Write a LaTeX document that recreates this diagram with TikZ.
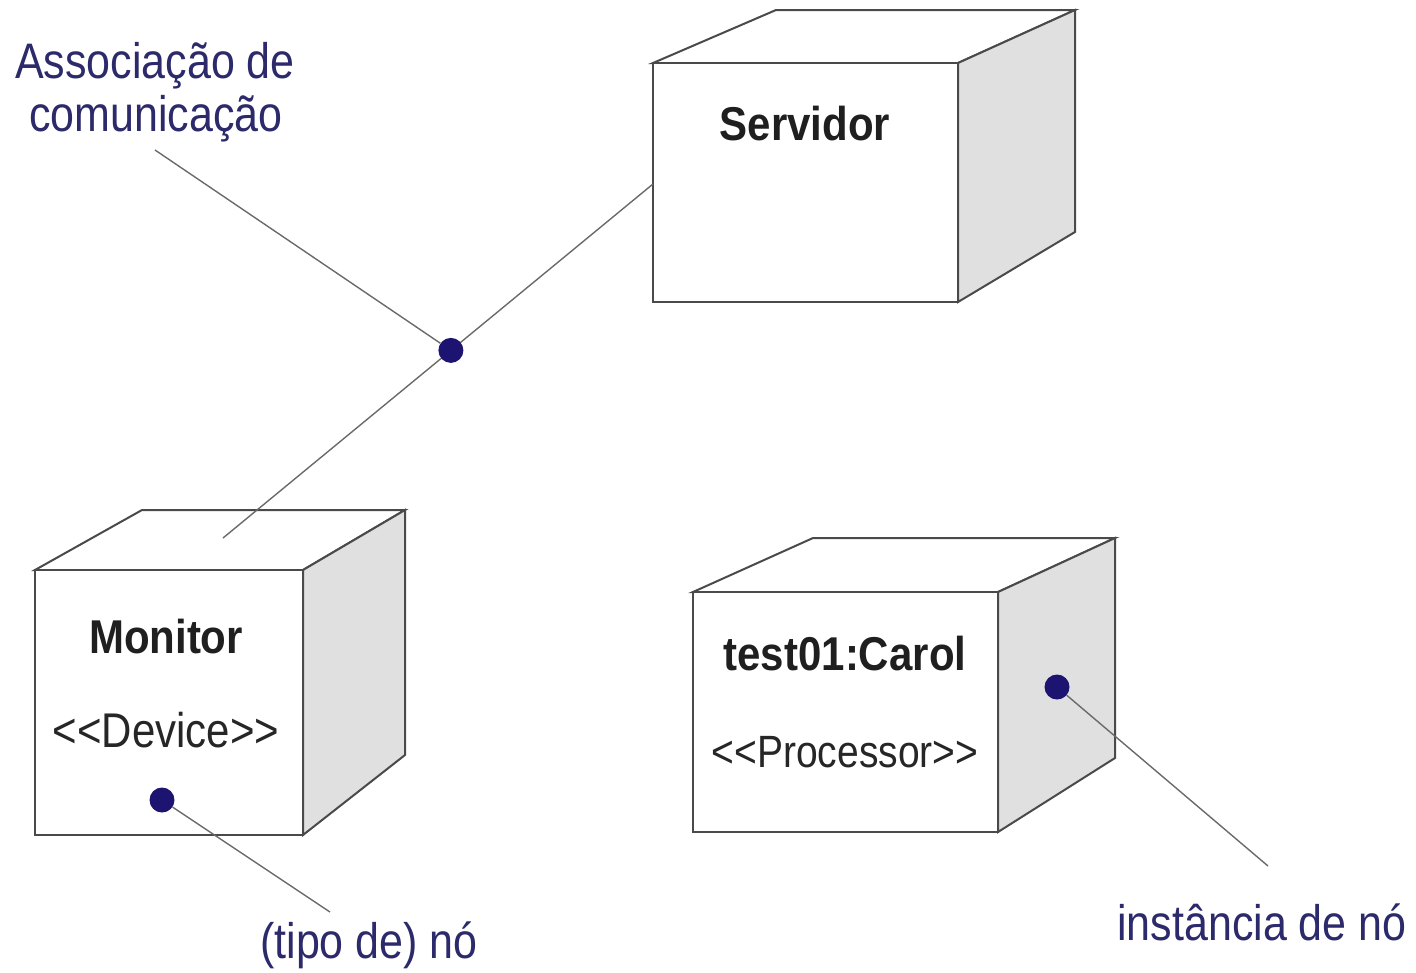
\documentclass[tikz,border=0pt]{standalone}
\usepackage{graphicx}
\usepackage{fontspec}
\setmainfont{Liberation Sans}
\newfontfamily\plainsans{Liberation Sans}
\usetikzlibrary{calc}
\definecolor{edgegray}{HTML}{4A4A4A}
\definecolor{sidegray}{HTML}{E0E0E0}
\definecolor{dotblue}{HTML}{1C1470}
\definecolor{labelblue}{HTML}{2C2A6A}
\definecolor{linegray}{HTML}{6A6A6A}
\newcommand{\tallbold}[1]{\scalebox{1}[1.13]{#1}}
\newcommand{\tallreg}[1]{\scalebox{1}[1.16]{#1}}
\tikzset{
  boxedge/.style={draw=edgegray, line width=2pt, line join=miter},
  sideface/.style={boxedge, fill=sidegray},
  topface/.style={boxedge, fill=white},
  frontface/.style={boxedge, fill=white, rectangle, anchor=north west, outer sep=0pt, inner sep=0pt},
  dotmark/.style={circle, fill=dotblue, inner sep=0pt, minimum size=25pt},
  connector/.style={draw=linegray, line width=1.4pt},
  boldtext/.style={font=\fontsize{42}{48}\selectfont\bfseries, anchor=base, inner sep=0pt, text=black!88},
  stereo/.style={font=\plainsans\fontsize{42}{48}\selectfont, anchor=base, inner sep=0pt, text=black!85},
  labeltext/.style={font=\fontsize{43}{48}\selectfont, text=labelblue, anchor=base, inner sep=0pt},
}
\begin{document}
\begin{tikzpicture}[x=1pt,y=-1pt]
\useasboundingbox (0,0) rectangle (1416,972);

% Servidor cube
\path[topface] (653,63) -- (776,10) -- (1075,10) -- (958,63) -- cycle;
\path[sideface] (958,63) -- (1075,10) -- (1075,232) -- (958,302) -- cycle;
\node[frontface, minimum width=305pt, minimum height=239pt] (servidor) at (653,63) {};

% Monitor cube
\path[topface] (35,570) -- (142,510) -- (405,510) -- (303,570) -- cycle;
\path[sideface] (303,570) -- (405,510) -- (405,755) -- (303,835) -- cycle;
\node[frontface, minimum width=268pt, minimum height=265pt] (monitor) at (35,570) {};

% test01:Carol cube
\path[topface] (693,592) -- (813,538) -- (1115,538) -- (998,592) -- cycle;
\path[sideface] (998,592) -- (1115,538) -- (1115,758) -- (998,832) -- cycle;
\node[frontface, minimum width=305pt, minimum height=240pt] (carol) at (693,592) {};

% node texts
\node[boldtext] (srvname) at (805,140) {\tallbold{Servidor}};
\node[boldtext] (monname) at (166,653) {\tallbold{Monitor}};
\node[stereo] (monstereo) at (166,747) {\tallreg{<\kern0pt<Device>\kern0pt>}};
\node[boldtext] (carolname) at (845,670) {\tallbold{test01:Carol}};
\node[stereo, font=\plainsans\fontsize{39}{46}\selectfont] (carolstereo) at (845,767) {\tallreg{<\kern0pt<Processor>\kern0pt>}};

% communication association
\coordinate (montop) at (223,538);
\coordinate (srvlink) at (653,184);
\draw[connector] (montop) -- (srvlink);
\coordinate (assocend) at (155,150);
\node[dotmark] (assocdot) at ($(montop)!0.53!(srvlink)$) {};
\draw[connector] (assocend) -- (assocdot);

% (tipo de) no
\node[dotmark] (mondot) at (162,800) {};
\coordinate (tipoend) at (330,912);
\draw[connector] (mondot) -- (tipoend);

% instancia de no
\node[dotmark] (caroldot) at (1057,687) {};
\coordinate (instend) at (1268,866);
\draw[connector] (caroldot) -- (instend);

% labels
\node[labeltext] (assoc1) at (155,78) {\tallreg{Associação de}};
\node[labeltext] (assoc2) at (156,131) {\tallreg{comunicação}};
\node[labeltext] (tipo) at (369,958) {\tallreg{(tipo de) nó}};
\node[labeltext] (inst) at (1262,940) {\tallreg{instância de nó}};
\end{tikzpicture}
\end{document}
